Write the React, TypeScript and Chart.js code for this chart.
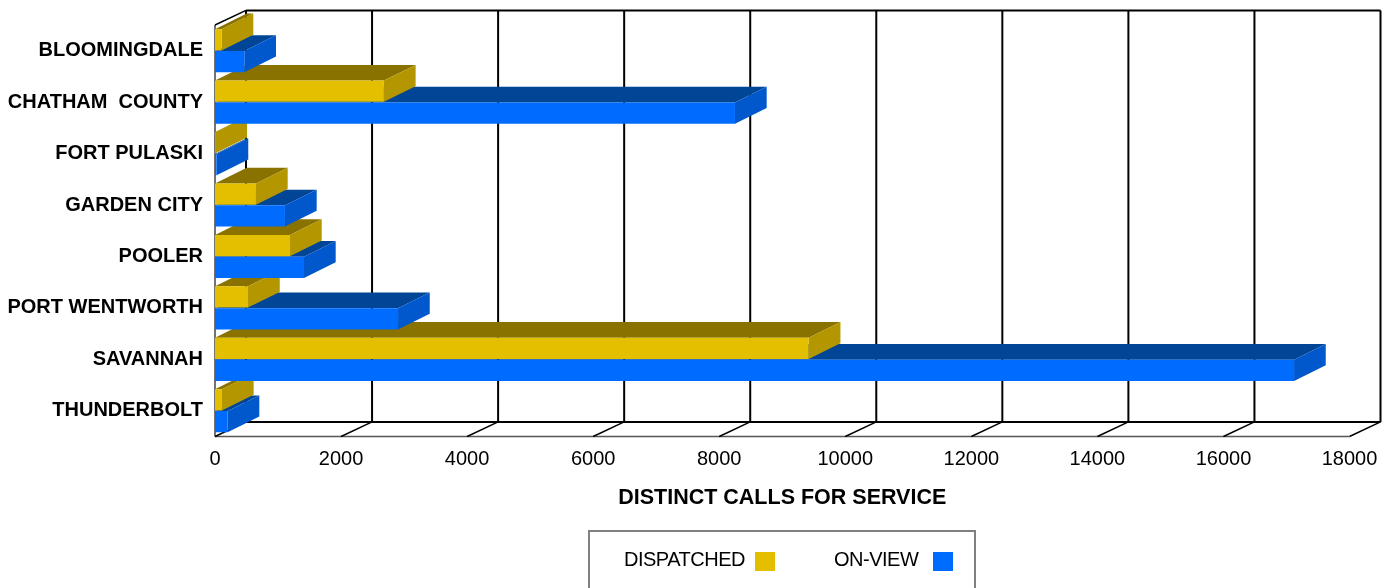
import { useEffect, useRef } from "react";
import { Chart, registerables } from "chart.js";

Chart.register(...registerables);

const categories = [
  "BLOOMINGDALE",
  "CHATHAM  COUNTY",
  "FORT PULASKI",
  "GARDEN CITY",
  "POOLER",
  "PORT WENTWORTH",
  "SAVANNAH",
  "THUNDERBOLT",
];
const dispatched = [105, 2680, 6, 650, 1190, 524, 9420, 110];
const onView = [465, 8250, 25, 1110, 1412, 2904, 17120, 200];

const FONT = "'Liberation Sans', Arial, sans-serif";
const WALL_X = 31;
const WALL_Y = 14.6;
const BAR_X = 31.7;
const BAR_Y = 15.7;

const faces = [
  { front: "#e3bf00", side: "#b39600", top: "#8a7200" },
  { front: "#006cff", side: "#0058cc", top: "#004596" },
];

const line = (
  ctx: CanvasRenderingContext2D,
  x1: number,
  y1: number,
  x2: number,
  y2: number,
  width: number,
  color: string
) => {
  ctx.beginPath();
  ctx.lineWidth = width;
  ctx.strokeStyle = color;
  ctx.moveTo(x1, y1);
  ctx.lineTo(x2, y2);
  ctx.stroke();
};

const polygon = (ctx: CanvasRenderingContext2D, pts: number[][], color: string) => {
  ctx.beginPath();
  ctx.fillStyle = color;
  pts.forEach(([x, y], i) => (i ? ctx.lineTo(x, y) : ctx.moveTo(x, y)));
  ctx.closePath();
  ctx.fill();
};

// Box walls and floor, then the receding faces of each bar; the library paints the front faces on top.
const depthPlugin = {
  id: "depth",
  beforeDatasetsDraw(chart: any) {
    const { ctx, chartArea, scales } = chart;
    const { top, bottom, left, right } = chartArea;
    ctx.save();
    line(ctx, left + WALL_X, top - WALL_Y, right + WALL_X, top - WALL_Y, 2, "#000");
    line(ctx, left + WALL_X, bottom - WALL_Y, right + WALL_X, bottom - WALL_Y, 2, "#000");
    line(ctx, left, bottom, right, bottom, 1.5, "#555");
    line(ctx, left, top, left, bottom, 1.5, "#444");
    line(ctx, left, top, left + WALL_X, top - WALL_Y, 1.5, "#000");
    scales.x.ticks.forEach((tick: any) => {
      const x = scales.x.getPixelForValue(tick.value);
      line(ctx, x + WALL_X, top - WALL_Y, x + WALL_X, bottom - WALL_Y, 2, "#000");
      line(ctx, x, bottom, x + WALL_X, bottom - WALL_Y, 1.5, "#000");
    });
    for (let i = categories.length - 1; i >= 0; i--) {
      for (let d = 1; d >= 0; d--) {
        const bar = chart.getDatasetMeta(d).data[i];
        const x0 = bar.base;
        const x1 = bar.x;
        const y0 = bar.y - bar.height / 2;
        const y1 = bar.y + bar.height / 2;
        polygon(
          ctx,
          [[x0, y0], [x1, y0], [x1 + BAR_X, y0 - BAR_Y], [x0 + BAR_X, y0 - BAR_Y]],
          faces[d].top
        );
        polygon(
          ctx,
          [[x1, y0], [x1, y1], [x1 + BAR_X, y1 - BAR_Y], [x1 + BAR_X, y0 - BAR_Y]],
          faces[d].side
        );
      }
    }
    ctx.restore();
  },
};

// Boxed key at the foot of the chart, with each label placed before its swatch.
const keyPlugin = {
  id: "key",
  afterDraw(chart: any) {
    const { ctx } = chart;
    const textX = [624, 834];
    const swatchX = [755, 933];
    ctx.save();
    ctx.lineWidth = 2;
    ctx.strokeStyle = "#808080";
    ctx.strokeRect(589, 531, 386, 70);
    ctx.font = `20px ${FONT}`;
    ctx.textBaseline = "middle";
    ctx.textAlign = "left";
    (ctx as any).letterSpacing = "-0.5px";
    chart.data.datasets.forEach((ds: any, i: number) => {
      ctx.fillStyle = "#000";
      ctx.fillText(ds.label, textX[i], 560);
      ctx.fillStyle = ds.backgroundColor;
      ctx.fillRect(swatchX[i], 552, 20, 19);
    });
    ctx.restore();
  },
};

export default function App() {
  const ref = useRef<HTMLCanvasElement>(null);

  useEffect(() => {
    const chart = new Chart(ref.current!, {
      type: "bar",
      data: {
        labels: categories,
        datasets: [
          {
            label: "DISPATCHED",
            data: dispatched,
            backgroundColor: faces[0].front,
            categoryPercentage: 0.85,
            barPercentage: 0.97,
            borderWidth: 0,
          },
          {
            label: "ON-VIEW",
            data: onView,
            backgroundColor: faces[1].front,
            categoryPercentage: 0.85,
            barPercentage: 0.97,
            borderWidth: 0,
          },
        ],
      },
      options: {
        indexAxis: "y",
        animation: false,
        responsive: false,
        layout: { padding: { top: 25, right: 43.5, left: 0, bottom: 0 } },
        plugins: {
          legend: { display: false },
          tooltip: { enabled: false },
        },
        scales: {
          x: {
            min: 0,
            max: 18000,
            ticks: {
              stepSize: 2000,
              maxRotation: 0,
              autoSkip: false,
              color: "#000",
              padding: 3,
              font: { family: FONT, size: 20 },
              callback: (value: any) => String(value),
            },
            grid: { display: false },
            border: { display: false },
            title: {
              display: true,
              text: "DISTINCT CALLS FOR SERVICE",
              color: "#000",
              font: { family: FONT, size: 21.5, weight: "bold" },
              padding: { top: 0, bottom: 77 },
            },
            afterFit: (scale: any) => {
              scale.height = 151.5;
            },
          },
          y: {
            ticks: {
              color: "#000",
              padding: 4,
              autoSkip: false,
              font: { family: FONT, size: 20, weight: "bold" },
            },
            grid: { display: false },
            border: { display: false },
            afterFit: (scale: any) => {
              scale.width = 215;
            },
          },
        },
      },
      plugins: [depthPlugin, keyPlugin],
    } as any);
    return () => chart.destroy();
  }, []);

  return (
    <div style={{ position: "fixed", left: 0, top: 0, width: 1393, height: 588, background: "#fff", overflow: "hidden" }}>
      <canvas ref={ref} width={1393} height={588} style={{ display: "block" }} />
    </div>
  );
}
